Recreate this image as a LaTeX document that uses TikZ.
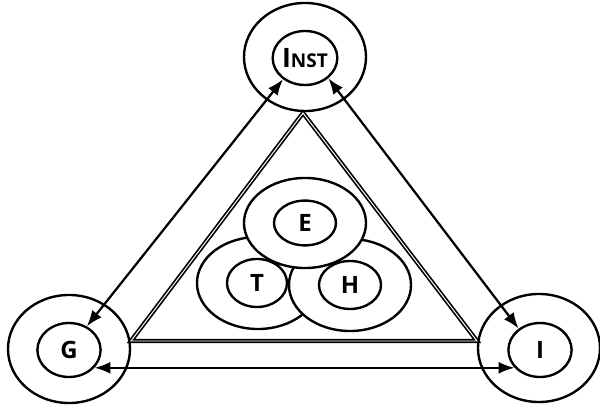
\documentclass[tikz,border=0pt]{standalone}
\usepackage{fontspec}
\setmainfont{Open Sans}
\usepackage{tikz}
\usetikzlibrary{positioning, arrows.meta, shapes.geometric}

\begin{document}
\begin{tikzpicture}[
    x=0.025cm, y=-0.025cm,
    ring/.style={
        draw,
        ellipse,
        inner sep=0pt,
        minimum width=3.05cm,
        minimum height=2.7cm,
        line width=1.7pt
    },
    core/.style={
        draw,
        ellipse,
        inner sep=0pt,
        minimum width=1.58cm,
        minimum height=1.35cm,
        font=\fontsize{17}{20}\selectfont\bfseries,
        line width=1.7pt
    },
    blob/.style={
        ring,
        fill=white,
        minimum height=2.3cm
    },
    arrow/.style={
        {Latex[length=0.4cm, width=0.3cm]}-{Latex[length=0.4cm, width=0.3cm]},
        line width=1.6pt
    },
    band/.style={
        double,
        double distance=0.7pt,
        line width=1.2pt,
        line join=miter
    }
]
\useasboundingbox (0,0) rectangle (600,405);

% Corner Nodes
\node (nstring) at (305,57) [ring] {};
\node (nst) at (305,58) [core] {\fontsize{19}{20}\selectfont I\fontsize{13.5}{16}\selectfont NST};
\node (gring) at (69,349) [ring] {};
\node (g) at (69,350) [core] {G};
\node (iring) at (539,348) [ring] {};
\node (i) at (540,350) [core] {I};

% Inner Triangle
\coordinate (apex) at (303,113);
\coordinate (left) at (131,341);
\coordinate (right) at (477,341);
\draw [band] (apex) -- (left) -- (right) -- cycle;

% Centre Group (T, then H, then E on top)
\node (tring) at (258,283) [blob] {};
\node (t) at (257,283) [core, minimum width=1.5cm, minimum height=1.2cm] {T};
\node (hring) at (350,285) [blob] {};
\node (h) at (350,285) [core, minimum width=1.55cm, minimum height=1.2cm] {H};
\node (ering) at (305,223) [blob, minimum height=2.25cm] {};
\node (e) at (305,223) [core, minimum width=1.55cm, minimum height=1.12cm] {E};

% Arrows
\draw [arrow] (nst.224) -- (g.53);
\draw [arrow] (nst.319) -- (i.135);
\draw [arrow] (g.325) -- (i.215);

\end{tikzpicture}
\end{document}
